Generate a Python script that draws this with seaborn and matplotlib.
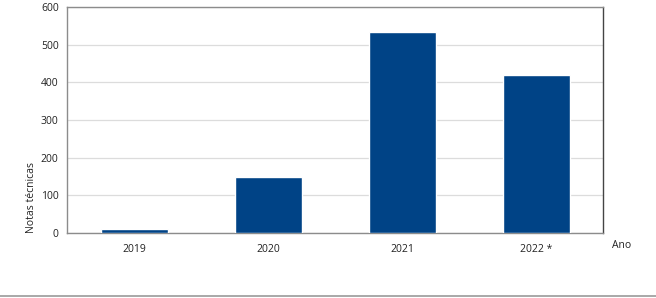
import matplotlib
matplotlib.use("Agg")
import matplotlib.pyplot as plt
import seaborn as sns
import pandas as pd
from matplotlib.lines import Line2D

anos = ["2019", "2020", "2021", "2022 *"]
notas = [10, 149, 534, 420]

sns.set_style("white")
plt.rcParams['font.family'] = ['Open Sans', 'DejaVu Sans']

df = pd.DataFrame({"Ano": anos, "Notas técnicas": notas})

fig = plt.figure(figsize=(6.56, 2.98), dpi=100)
ax = fig.add_axes([67/656, 1 - 233/298, (603-67)/656, (233-7)/298])
sns.barplot(data=df, x="Ano", y="Notas técnicas", color="#004386", width=0.5,
            saturation=1, ax=ax, zorder=3)
ax.set_xlim(-0.5, 3.5)
ax.set_ylim(0, 600)
ax.set_yticks([0, 100, 200, 300, 400, 500, 600])
ax.yaxis.grid(True, color="#dcdcdc", linewidth=0.9, zorder=0)
ax.set_axisbelow(True)
ax.tick_params(axis="both", length=0, labelsize=7.5, colors="#222222", pad=6)
ax.tick_params(axis="x", pad=8)
ax.set_xlabel("")
ax.set_ylabel("Notas técnicas", fontsize=7.5, color="#222222", labelpad=3, loc="bottom")
for s in ["left", "bottom", "top"]:
    ax.spines[s].set_color("#8c8c8c")
    ax.spines[s].set_linewidth(1.0)
ax.spines["right"].set_color("#444444")
ax.spines["right"].set_linewidth(1.0)

fig.text(612/656, 1 - 246/298, "Ano", fontsize=7.5, color="#222222", va="center", ha="left")
fig.add_artist(Line2D([0, 1], [1 - 296/298, 1 - 296/298], color="#999999", linewidth=1.2,
                      transform=fig.transFigure))

fig.savefig("out.png", dpi=100)
